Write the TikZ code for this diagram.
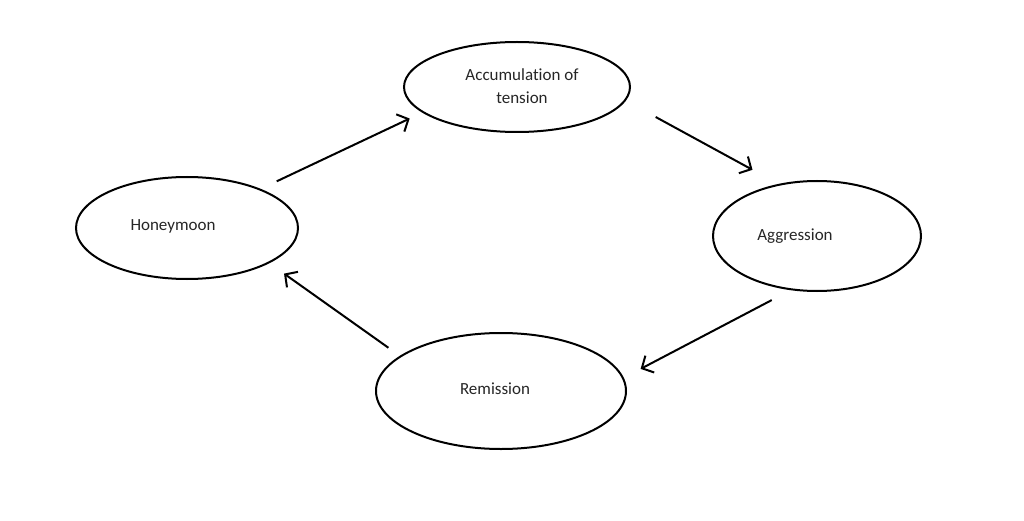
\documentclass[tikz,border=0pt]{standalone}
\usepackage{fontspec}
\setmainfont[Ligatures=NoCommon]{Carlito}
\usetikzlibrary{shapes.geometric,arrows.meta}
\tikzset{
  phase/.style={draw,ellipse,line width=2pt,inner sep=0pt,outer sep=0pt},
  phasetext/.style={align=center,text=black!85,font=\fontsize{17}{23}\selectfont},
  cyc/.style={line width=2pt,-{Straight Barb[length=9pt,width=19pt]}}
}
\begin{document}
\begin{tikzpicture}[x=1pt,y=-1pt]
  \useasboundingbox (0,0) rectangle (1024,521);
  \node[phase,minimum width=226pt,minimum height=90pt] (acc) at (517,87) {};
  \node[phase,minimum width=208pt,minimum height=110pt] (agg) at (817,236) {};
  \node[phase,minimum width=250pt,minimum height=116pt] (rem) at (501,391) {};
  \node[phase,minimum width=222pt,minimum height=102pt] (hon) at (187,228) {};
  \node[phasetext] (acctext) at (522,86) {Accumulation of\\tension};
  \node[phasetext] (aggtext) at (795,236) {Aggression};
  \node[phasetext] (remtext) at (495,389) {Remission};
  \node[phasetext] (hontext) at (173,226) {Honeymoon};
  % the cycle
  \draw[cyc,shorten <=19pt,shorten >=15pt] (hon.28) -- (acc.195.5);
  \draw[cyc,shorten <=35pt,shorten >=31pt] (acc.-7.7) -- (agg.126.3);
  \draw[cyc,shorten <=23pt,shorten >=20pt] (agg.245.3) -- (rem.6.5);
  \draw[cyc,shorten <=15pt,shorten >=19pt] (rem.161.1) -- (hon.-23.6);
\end{tikzpicture}
\end{document}
